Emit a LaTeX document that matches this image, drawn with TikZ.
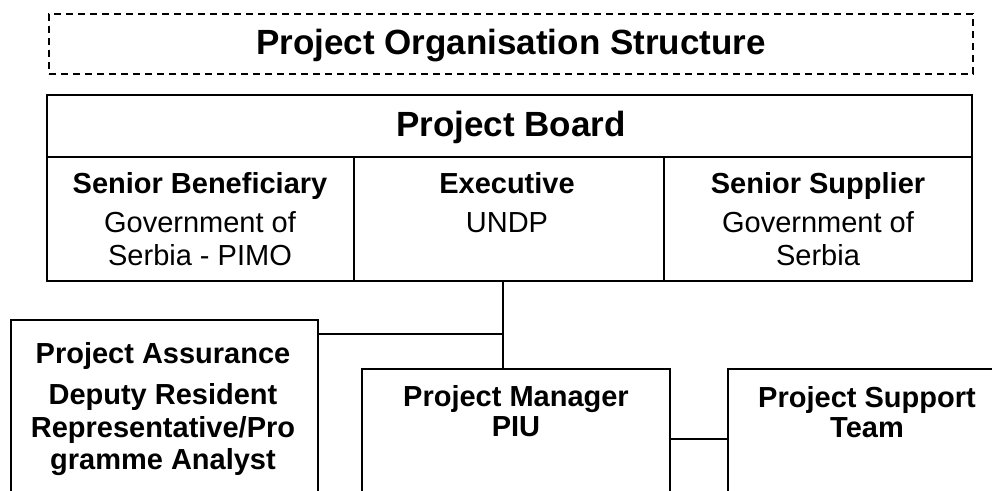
\documentclass[tikz,border=0pt]{standalone}
\usepackage{fontspec}
\setmainfont{Liberation Sans}
\begin{document}
\begin{tikzpicture}[x=0.5pt, y=-0.5pt]
		\tikzset{bx/.style={rectangle, draw=black, line width=1pt, inner sep=0pt}};
		\tikzset{ln/.style={draw=black, line width=1pt}};
		\tikzset{big/.style={anchor=base, font=\fontsize{17.5}{21}\selectfont\bfseries}};
		\tikzset{hd/.style={anchor=base, align=center, font=\fontsize{14.5}{16.3}\selectfont\bfseries}};
		\tikzset{hdt/.style={anchor=base, align=center, font=\fontsize{14.5}{15.2}\selectfont\bfseries}};
		\tikzset{tx/.style={anchor=base, align=center, font=\fontsize{14.5}{16.5}\selectfont}};

		\useasboundingbox (0,0) rectangle (992,491);
		\clip (0,0) rectangle (992,491);

		\node[bx, line width=0.7pt, dash pattern=on 3.5pt off 2.5pt, minimum width=462pt, minimum height=30pt] (ttl) at (511,44) {};
		\node[bx, minimum width=462.5pt, minimum height=31pt] (brd) at (509.5,126) {};
		\node[bx, minimum width=153.5pt, minimum height=62pt] (ben) at (200.5,219) {};
		\node[bx, minimum width=155pt, minimum height=62pt] (exe) at (509,219) {};
		\node[bx, minimum width=154pt, minimum height=62pt] (sup) at (818,219) {};
		\node[bx, minimum width=153.5pt, minimum height=100pt] (asr) at (164.5,420) {};
		\node[bx, minimum width=154pt, minimum height=75.5pt] (mgr) at (516,444.5) {};
		\node[bx, minimum width=139pt, minimum height=75.5pt] (tm) at (867,444.5) {};

		\node[big] (ttltx) at (511,55) {Project Organisation Structure};
		\node[big] (brdtx) at (511,137) {Project Board};

		% base anchor of a multi-line node is the baseline of its last line
		\node[hd] (benhd) at (200,194) {Senior Beneficiary};
		\node[tx] (bentx) at (200,266) {Government of\\Serbia - PIMO};
		\node[hd] (exehd) at (507,194) {Executive};
		\node[tx] (exetx) at (507,233) {UNDP};
		\node[hd] (suphd) at (818,194) {Senior Supplier};
		\node[tx] (suptx) at (818,266) {Government of\\Serbia};

		\node[hd] (asrhd) at (163,364) {Project Assurance};
		\node[hd] (asrtx) at (163,470) {Deputy Resident\\Representative/Pro\\gramme Analyst};
		\node[hdt] (mgrtx) at (516,437) {Project Manager\\PIU};
		\node[hdt] (tmtx) at (867,438) {Project Support\\Team};

		\coordinate (jn) at (503,334);
		\coordinate (ms) at (699,439);

		\draw[ln] (exe.south -| jn) to (jn |- mgr.north);
		\draw[ln] (asr.east |- jn) to (jn);
		\draw[ln] (ms -| mgr.east) to (ms -| tm.west);

	\end{tikzpicture}
\end{document}
